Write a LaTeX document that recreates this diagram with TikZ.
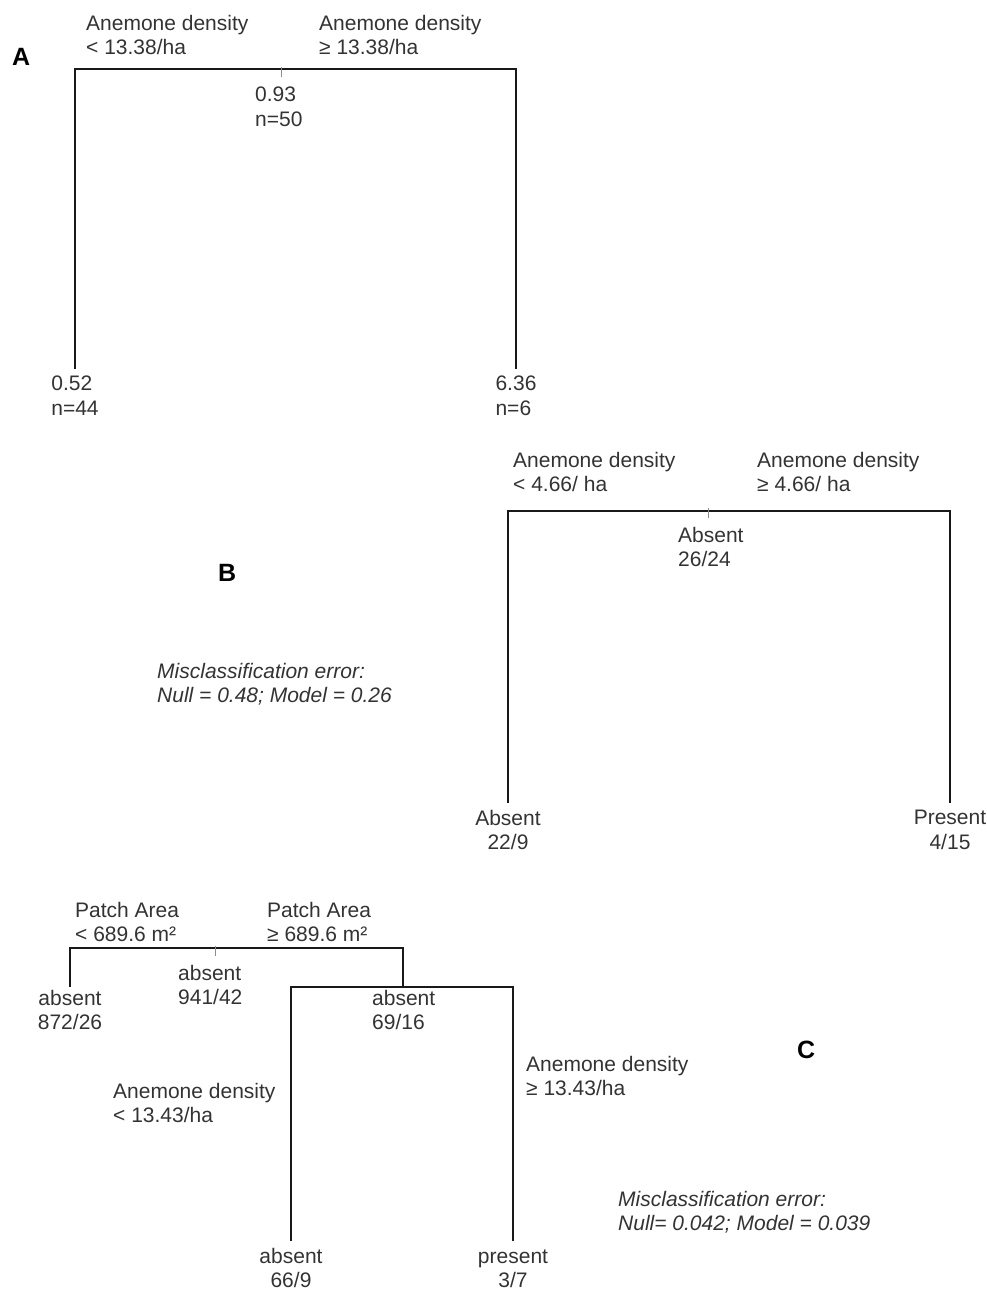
\documentclass[tikz,border=0pt]{standalone}
\usepackage{fontspec}
\setmainfont{Liberation Sans}
\begin{document}
\begin{tikzpicture}[x=1pt, y=-1pt, font=\fontsize{21}{24.5}\selectfont, text=black!80,
  lbl/.style = {anchor=north west, align=left, inner sep=0pt},
  leaf/.style = {anchor=north, align=center, inner xsep=0pt, inner ysep=7pt},
  panel/.style = {anchor=base west, inner sep=0pt, text=black, font=\fontsize{25}{28}\selectfont\bfseries},
  note/.style = {lbl, font=\fontsize{21}{24.5}\selectfont\itshape},
  branch/.style = {draw=black!90, line width=1.6pt},
  tick/.style = {draw=black!45, line width=0.7pt}]
\useasboundingbox (0,0) rectangle (986,1291);

\node[panel] (pA) at (12,65) {A};
\node[lbl] (sA1) at (86,15) {Anemone density\\< 13.38/ha};
\node[lbl] (sA2) at (319,15) {Anemone density\\≥ 13.38/ha};
\coordinate (A0) at (281,69);
\node[lbl] (nA0) at (255,87) {0.93\\n=50};
\node[leaf, align=left] (A1) at (75,369) {0.52\\n=44};
\node[leaf, align=left] (A2) at (516,369) {6.36\\n=6};
\draw[branch] (A1) |- (A0) -| (A2);
\draw[tick] (A0) ++(0,-2) -- ++(0,10);

\node[panel] (pB) at (218,581) {B};
\node[lbl] (sB1) at (513,452) {Anemone density\\< 4.66/ ha};
\node[lbl] (sB2) at (757,452) {Anemone density\\≥ 4.66/ ha};
\coordinate (B0) at (708,511);
\node[lbl] (nB0) at (678,527) {Absent\\26/24};
\node[leaf] (B1) at (508,803) {Absent\\22/9};
\node[leaf] (B2) at (950,803) {Present\\4/15};
\draw[branch] (B1) |- (B0) -| (B2);
\draw[tick] (B0) ++(0,-3) -- ++(0,10);
\node[note] (eB) at (157,663) {Misclassification error:\\Null = 0.48; Model = 0.26};

\node[panel] (pC) at (797,1058) {C};
\node[lbl] (sC1) at (75,902) {Patch Area\\< 689.6 m²};
\node[lbl] (sC2) at (267,902) {Patch Area\\≥ 689.6 m²};
\coordinate (C0) at (215,948);
\node[lbl] (nC0) at (178,965) {absent\\941/42};
\node[leaf, inner ysep=3pt] (C1) at (70,987) {absent\\872/26};
\coordinate (C2) at (403,987);
\node[lbl] (nC2) at (372,990) {absent\\69/16};
\draw[branch] (C1) |- (C0) -| (C2);
\draw[tick] (C0) ++(0,-2) -- ++(0,10);

\node[lbl] (sC3) at (113,1083) {Anemone density\\< 13.43/ha};
\node[lbl] (sC4) at (526,1056) {Anemone density\\≥ 13.43/ha};
\node[leaf] (C3) at (291,1241) {absent\\66/9};
\node[leaf] (C4) at (513,1241) {\vphantom{b}present\\3/7};
\draw[branch] (C3) |- (C2) -| (C4);
\node[note] (eC) at (618,1191) {Misclassification error:\\Null= 0.042; Model = 0.039};

\end{tikzpicture}
\end{document}
